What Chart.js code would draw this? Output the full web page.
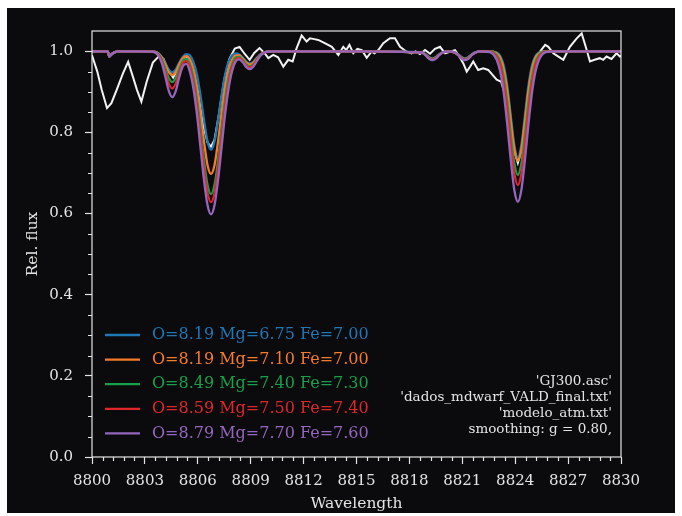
<!DOCTYPE html>
<html>
<head>
<meta charset="utf-8">
<script src="https://cdn.jsdelivr.net/npm/chart.js@4.4.1/dist/chart.umd.min.js"></script>
<style>
  html, body { margin: 0; padding: 0; background: #ffffff; }
  canvas { display: block; }
</style>
</head>
<body>
<canvas id="chart" width="682" height="516" style="width:682px;height:516px"></canvas>
<script>
// observed spectrum (white)
const obsWave = [
  8800.00, 8800.30, 8800.55, 8800.85, 8801.10, 8801.40, 8801.75, 8802.05, 8802.30, 8802.55,
  8802.80, 8803.10, 8803.45, 8803.80, 8804.05, 8804.30, 8804.60, 8804.90, 8805.20, 8805.45,
  8805.70, 8806.00, 8806.30, 8806.55, 8806.75, 8806.95, 8807.20, 8807.50, 8807.80, 8808.10,
  8808.37, 8808.65, 8808.94, 8809.20, 8809.50, 8809.80, 8810.00, 8810.28, 8810.55, 8810.85,
  8811.13, 8811.38, 8811.60, 8811.89, 8812.17, 8812.36, 8812.60, 8812.83, 8813.20, 8813.60,
  8813.97, 8814.25, 8814.42, 8814.60, 8814.82, 8815.05, 8815.30, 8815.58, 8815.85, 8816.02,
  8816.24, 8816.52, 8816.90, 8817.18, 8817.47, 8817.84, 8818.12, 8818.35, 8818.60, 8818.89,
  8819.17, 8819.45, 8819.74, 8820.02, 8820.30, 8820.59, 8820.78, 8821.06, 8821.25, 8821.44,
  8821.62, 8821.90, 8822.19, 8822.47, 8822.75, 8822.95, 8823.20, 8823.45, 8823.70, 8823.95,
  8824.15, 8824.35, 8824.60, 8824.85, 8825.10, 8825.40, 8825.70, 8825.88, 8826.16, 8826.45,
  8826.73, 8827.10, 8827.49, 8827.77, 8828.00, 8828.24, 8828.50, 8828.80, 8828.99, 8829.18,
  8829.46, 8829.75, 8829.94, 8830.00
];
const obsFlux = [
  0.990, 0.950, 0.905, 0.860, 0.872, 0.905, 0.945, 0.974, 0.940, 0.905,
  0.876, 0.925, 0.972, 0.988, 0.982, 0.956, 0.935, 0.958, 0.980, 0.985,
  0.962, 0.900, 0.820, 0.775, 0.765, 0.782, 0.845, 0.930, 0.982, 1.007,
  1.011, 0.994, 0.979, 0.996, 1.008, 0.995, 0.983, 0.991, 0.985, 0.962,
  0.979, 0.975, 1.007, 1.039, 1.024, 1.032, 1.030, 1.028, 1.020, 1.011,
  0.991, 1.011, 1.003, 1.016, 0.995, 1.006, 1.003, 0.984, 0.999, 0.995,
  1.003, 1.020, 1.032, 1.032, 1.011, 0.999, 0.995, 1.000, 0.993, 1.003,
  0.994, 1.006, 1.011, 0.995, 0.999, 1.003, 0.991, 0.970, 0.950, 0.962,
  0.975, 0.954, 0.958, 0.954, 0.940, 0.930, 0.925, 0.890, 0.830, 0.755,
  0.725, 0.755, 0.835, 0.912, 0.970, 0.999, 1.016, 1.011, 0.995, 0.987,
  0.979, 1.011, 1.032, 1.044, 1.011, 0.975, 0.979, 0.983, 0.979, 0.987,
  0.981, 0.995, 0.987, 0.990
];

// synthetic spectra, shared wavelength grid
const modelWave = [
  8800, 8800.9, 8800.97, 8801.1, 8801.3, 8801.5, 8802.5,
  8803.35, 8803.55, 8803.75, 8803.95, 8804.15, 8804.35, 8804.55, 8804.75, 8804.95, 8805.15,
  8805.35, 8805.55, 8805.75, 8805.95, 8806.15, 8806.35, 8806.55, 8806.75, 8806.95, 8807.15,
  8807.35, 8807.55, 8807.75, 8807.95, 8808.15, 8808.35, 8808.55, 8808.75, 8808.95, 8809.15,
  8809.35, 8809.55, 8809.75, 8809.95, 8810.25,
  8812, 8815,
  8818.7, 8818.9, 8819.1, 8819.3, 8819.5, 8819.7, 8819.9, 8820.2,
  8820.55, 8820.75, 8820.95, 8821.15, 8821.35, 8821.55, 8821.75, 8822.0,
  8822.35, 8822.55, 8822.75, 8822.95, 8823.15, 8823.35, 8823.55, 8823.75, 8823.95, 8824.15,
  8824.35, 8824.55, 8824.75, 8824.95, 8825.15, 8825.35, 8825.55, 8825.75, 8825.95,
  8826.5, 8830
];
const fluxA = [ // O=8.19 Mg=6.75 Fe=7.00
  1.000, 1.000, 0.988, 0.993, 0.998, 1.000, 1.000,
  1.000, 0.999, 0.996, 0.987, 0.972, 0.955, 0.948, 0.955, 0.972, 0.986,
  0.993, 0.990, 0.974, 0.943, 0.892, 0.831, 0.778, 0.757, 0.778, 0.831,
  0.892, 0.943, 0.975, 0.990, 0.995, 0.992, 0.984, 0.974, 0.970, 0.974,
  0.984, 0.992, 0.997, 0.999, 1.000,
  1.000, 1.000,
  0.998, 0.993, 0.986, 0.982, 0.986, 0.993, 0.998, 1.000,
  0.998, 0.993, 0.986, 0.982, 0.986, 0.993, 0.998, 1.000,
  1.000, 1.000, 0.999, 0.997, 0.988, 0.965, 0.915, 0.841, 0.769, 0.738,
  0.769, 0.841, 0.915, 0.965, 0.988, 0.997, 0.999, 1.000, 1.000,
  1.000, 1.000
];
const fluxB = [ // O=8.19 Mg=7.10 Fe=7.00
  1.000, 1.000, 0.988, 0.993, 0.998, 1.000, 1.000,
  1.000, 0.999, 0.995, 0.985, 0.968, 0.949, 0.941, 0.949, 0.968, 0.983,
  0.988, 0.980, 0.956, 0.912, 0.849, 0.778, 0.720, 0.698, 0.720, 0.778,
  0.849, 0.912, 0.956, 0.980, 0.990, 0.990, 0.982, 0.972, 0.967, 0.972,
  0.982, 0.992, 0.997, 0.999, 1.000,
  1.000, 1.000,
  0.997, 0.992, 0.985, 0.981, 0.985, 0.992, 0.997, 1.000,
  0.997, 0.992, 0.985, 0.981, 0.985, 0.992, 0.997, 1.000,
  1.000, 1.000, 0.999, 0.995, 0.984, 0.956, 0.903, 0.828, 0.759, 0.730,
  0.759, 0.828, 0.903, 0.956, 0.984, 0.995, 0.999, 1.000, 1.000,
  1.000, 1.000
];
const fluxC = [ // O=8.49 Mg=7.40 Fe=7.30
  1.000, 1.000, 0.987, 0.992, 0.998, 1.000, 1.000,
  1.000, 0.998, 0.994, 0.981, 0.959, 0.935, 0.924, 0.935, 0.958, 0.977,
  0.981, 0.969, 0.937, 0.882, 0.810, 0.732, 0.671, 0.648, 0.671, 0.732,
  0.810, 0.882, 0.937, 0.969, 0.985, 0.986, 0.979, 0.968, 0.963, 0.968,
  0.980, 0.991, 0.997, 0.999, 1.000,
  1.000, 1.000,
  0.997, 0.992, 0.984, 0.980, 0.984, 0.992, 0.997, 1.000,
  0.997, 0.992, 0.984, 0.980, 0.984, 0.992, 0.997, 1.000,
  1.000, 0.999, 0.998, 0.991, 0.974, 0.937, 0.875, 0.795, 0.724, 0.695,
  0.724, 0.795, 0.875, 0.937, 0.974, 0.991, 0.998, 0.999, 1.000,
  1.000, 1.000
];
const fluxD = [ // O=8.59 Mg=7.50 Fe=7.40
  1.000, 1.000, 0.987, 0.992, 0.998, 1.000, 1.000,
  1.000, 0.998, 0.992, 0.977, 0.950, 0.921, 0.908, 0.921, 0.948, 0.971,
  0.976, 0.961, 0.924, 0.866, 0.791, 0.712, 0.651, 0.628, 0.651, 0.712,
  0.791, 0.866, 0.924, 0.962, 0.980, 0.984, 0.976, 0.965, 0.960, 0.966,
  0.978, 0.990, 0.997, 0.999, 1.000,
  1.000, 1.000,
  0.997, 0.991, 0.983, 0.979, 0.983, 0.991, 0.997, 1.000,
  0.997, 0.991, 0.983, 0.979, 0.983, 0.991, 0.997, 1.000,
  1.000, 0.999, 0.996, 0.987, 0.966, 0.922, 0.854, 0.770, 0.699, 0.670,
  0.699, 0.770, 0.854, 0.922, 0.966, 0.987, 0.996, 0.999, 1.000,
  1.000, 1.000
];
const fluxE = [ // O=8.79 Mg=7.70 Fe=7.60
  1.000, 1.000, 0.987, 0.992, 0.998, 1.000, 1.000,
  0.999, 0.998, 0.990, 0.972, 0.939, 0.903, 0.887, 0.902, 0.936, 0.963,
  0.969, 0.950, 0.909, 0.845, 0.764, 0.683, 0.621, 0.598, 0.621, 0.683,
  0.764, 0.845, 0.909, 0.952, 0.975, 0.980, 0.973, 0.961, 0.956, 0.962,
  0.976, 0.989, 0.996, 0.999, 1.000,
  1.000, 1.000,
  0.997, 0.991, 0.982, 0.978, 0.982, 0.991, 0.997, 1.000,
  0.997, 0.991, 0.982, 0.978, 0.982, 0.991, 0.997, 1.000,
  0.999, 0.998, 0.993, 0.979, 0.950, 0.897, 0.819, 0.731, 0.658, 0.629,
  0.658, 0.731, 0.819, 0.897, 0.950, 0.979, 0.993, 0.998, 0.999,
  1.000, 1.000
];

const modelLabels = [
  'O=8.19 Mg=6.75 Fe=7.00',
  'O=8.19 Mg=7.10 Fe=7.00',
  'O=8.49 Mg=7.40 Fe=7.30',
  'O=8.59 Mg=7.50 Fe=7.40',
  'O=8.79 Mg=7.70 Fe=7.60'
];
const modelFlux = [fluxA, fluxB, fluxC, fluxD, fluxE];
const modelColors = ['#1f77b4', '#f57b2a', '#16a04a', '#e0262b', '#9467bd'];

const xTicks = [8800, 8803, 8806, 8809, 8812, 8815, 8818, 8821, 8824, 8827, 8830];
const yTicks = [0.0, 0.2, 0.4, 0.6, 0.8, 1.0];
const xMinorStep = 0.6;
const yMinorStep = 0.05;

const infoLines = ["'GJ300.asc'", "'dados_mdwarf_VALD_final.txt'", "'modelo_atm.txt'", 'smoothing: g = 0.80,'];

const serif = "'DejaVu Serif', serif";
const fg = '#e4e4e4';

function minorTicks(major, step) {
  const out = [];
  for (let i = 0; i < major.length - 1; i++) {
    const n = Math.round((major[i + 1] - major[i]) / step);
    for (let k = 1; k < n; k++) out.push(major[i] + k * step);
  }
  return out;
}

const pairs = (xs, ys) => xs.map((x, i) => ({ x: x, y: ys[i] }));

const datasets = modelFlux.map((f, i) => ({
  label: modelLabels[i],
  data: pairs(modelWave, f),
  borderColor: modelColors[i],
  borderWidth: 2.3,
  pointRadius: 0,
  cubicInterpolationMode: 'monotone',
  order: 5 - i
}));
datasets.push({
  label: 'obs',
  data: pairs(obsWave, obsFlux),
  borderColor: '#f2f2f2',
  borderWidth: 2,
  pointRadius: 0,
  tension: 0,
  order: 10
});

const decor = {
  id: 'decor',
  beforeDraw(chart) {
    const ctx = chart.ctx;
    ctx.save();
    ctx.fillStyle = '#ffffff';
    ctx.fillRect(0, 0, chart.width, chart.height);
    ctx.fillStyle = '#0b0a0d';
    ctx.fillRect(7, 8, 668, 505);
    ctx.restore();
  },
  afterDraw(chart) {
    const { ctx, chartArea: a, scales: { x, y } } = chart;
    ctx.save();
    ctx.strokeStyle = fg;
    ctx.lineWidth = 1.2;
    ctx.strokeRect(a.left, a.top, a.right - a.left, a.bottom - a.top);

    // minor ticks
    ctx.beginPath();
    minorTicks(xTicks, xMinorStep).forEach(v => {
      const px = Math.round(x.getPixelForValue(v)) + 0.5;
      ctx.moveTo(px, a.bottom);
      ctx.lineTo(px, a.bottom + 4);
    });
    minorTicks(yTicks, yMinorStep).forEach(v => {
      const py = Math.round(y.getPixelForValue(v)) + 0.5;
      ctx.moveTo(a.left, py);
      ctx.lineTo(a.left - 4, py);
    });
    ctx.stroke();

    // legend
    ctx.font = '16px ' + serif;
    ctx.textBaseline = 'middle';
    ctx.textAlign = 'left';
    modelLabels.forEach((lab, i) => {
      const yy = 335 + i * 24.6;
      ctx.strokeStyle = modelColors[i];
      ctx.lineWidth = 2.3;
      ctx.beginPath();
      ctx.moveTo(105, yy);
      ctx.lineTo(140, yy);
      ctx.stroke();
      ctx.fillStyle = modelColors[i];
      ctx.fillText(lab, 152, yy);
    });

    // run info
    ctx.font = '13.5px ' + serif;
    ctx.fillStyle = fg;
    ctx.textAlign = 'right';
    infoLines.forEach((t, i) => ctx.fillText(t, 612, 381.5 + i * 16));
    ctx.restore();
  }
};

new Chart(document.getElementById('chart'), {
  type: 'line',
  data: { datasets: datasets },
  options: {
    responsive: false,
    animation: false,
    devicePixelRatio: 1,
    events: [],
    layout: { padding: { left: 0, right: 61, top: 31, bottom: 0 } },
    plugins: { legend: { display: false }, tooltip: { enabled: false } },
    scales: {
      x: {
        type: 'linear',
        min: 8800,
        max: 8830,
        afterBuildTicks: s => { s.ticks = xTicks.map(v => ({ value: v })); },
        afterFit: s => { s.height = 59; },
        border: { display: false },
        grid: { drawOnChartArea: false, tickLength: 7, tickColor: fg, tickWidth: 1.2 },
        ticks: {
          autoSkip: false, maxRotation: 0, padding: 8, color: fg,
          font: { family: serif, size: 15 },
          callback: v => String(v)
        },
        title: {
          display: true, text: 'Wavelength', color: fg,
          font: { family: serif, size: 15.5 },
          padding: { top: 0, bottom: 3 }
        }
      },
      y: {
        min: 0,
        max: 1.05,
        afterBuildTicks: s => { s.ticks = yTicks.map(v => ({ value: v })); },
        afterFit: s => { s.width = 92; },
        border: { display: false },
        grid: { drawOnChartArea: false, tickLength: 7, tickColor: fg, tickWidth: 1.2 },
        ticks: {
          padding: 12, color: fg,
          font: { family: serif, size: 15 },
          callback: v => v.toFixed(1)
        },
        title: {
          display: true, text: 'Rel. flux', color: fg,
          font: { family: serif, size: 15.5 },
          padding: { top: 24, bottom: 0 }
        }
      }
    }
  },
  plugins: [decor]
});
</script>
</body>
</html>
